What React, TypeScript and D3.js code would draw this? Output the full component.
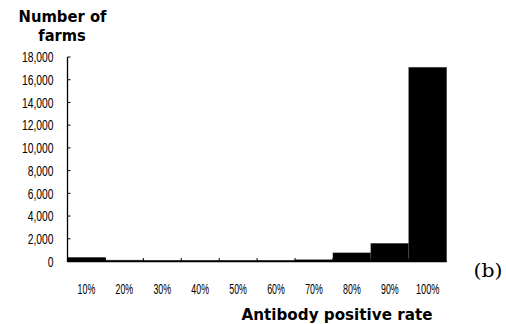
import React from "react";
import * as d3 from "d3";

const categories = ["10%", "20%", "30%", "40%", "50%", "60%", "70%", "80%", "90%", "100%"];
const farms = [370, 120, 110, 110, 110, 110, 150, 760, 1600, 17100];
const yTicks = [0, 2000, 4000, 6000, 8000, 10000, 12000, 14000, 16000, 18000];

const W = 506;
const H = 324;
const left = 67.5;
const right = 446.7;
const top = 57;
const bottom = 261.5;

export default function App() {
  const x = d3.scaleBand<string>().domain(categories).range([left, right]).padding(0);
  const y = d3.scaleLinear().domain([0, 18000]).range([bottom, top]);
  const fmt = d3.format(",");
  const labelFont = "'Liberation Sans', Arial, sans-serif";
  const boldFont = "'DejaVu Sans', Verdana, sans-serif";

  const yLabelWidth = (s: string) => {
    const digits = s.replace(/,/g, "").length;
    const commas = s.length - digits;
    return digits * 5.8 + commas * 2.6;
  };

  return (
    <svg width={W} height={H} style={{ position: "absolute", left: 0, top: 0, background: "#fff" }}>
      <rect x={0} y={0} width={W} height={H} fill="#fff" />
      {/* title */}
      <text x={62.5} y={21.5} fontFamily={boldFont} fontWeight="bold" fontSize={15.5} textAnchor="middle" textLength={88} lengthAdjust="spacingAndGlyphs" fill="#000">Number of</text>
      <text x={62} y={41} fontFamily={boldFont} fontWeight="bold" fontSize={15.5} textAnchor="middle" textLength={47.5} lengthAdjust="spacingAndGlyphs" fill="#000">farms</text>

      {/* bars */}
      {categories.map((c, i) => (
        <rect key={c} x={x(c)!} y={y(farms[i])} width={x.bandwidth()} height={bottom - y(farms[i])} fill="#000" stroke="#555" strokeWidth={0.5} />
      ))}

      {/* y axis */}
      <line x1={left} x2={left} y1={top} y2={bottom + 0.5} stroke="#000" strokeWidth={1.3} />
      {yTicks.map((t) => {
        const s = fmt(t);
        return (
          <g key={t}>
            <line x1={left} x2={left + 3} y1={y(t)} y2={y(t)} stroke="#000" strokeWidth={1} />
            <text x={53.5} y={y(t)} dy="0.36em" fontFamily={labelFont} fontSize={14.5} textAnchor="end" textLength={yLabelWidth(s)} lengthAdjust="spacingAndGlyphs" fill="#000">{s}</text>
          </g>
        );
      })}

      {/* x axis */}
      <line x1={left} x2={right} y1={bottom} y2={bottom} stroke="#000" strokeWidth={1.6} />
      {categories.slice(1).map((c) => (
        <line key={c} x1={x(c)!} x2={x(c)!} y1={bottom} y2={bottom - 3.5} stroke="#000" strokeWidth={1} />
      ))}
      {categories.map((c) => (
        <text key={c} x={x(c)! + x.bandwidth() / 2} y={289} dy="0.36em" fontFamily={labelFont} fontSize={14.5} textAnchor="middle" textLength={c.length * 5.9} lengthAdjust="spacingAndGlyphs" fill="#000">{c}</text>
      ))}

      <text x={337} y={320} fontFamily={boldFont} fontWeight="bold" fontSize={16.5} textAnchor="middle" textLength={191} lengthAdjust="spacingAndGlyphs" fill="#000">Antibody positive rate</text>

      <text x={488} y={276.5} fontFamily="'DejaVu Serif', 'Liberation Serif', serif" fontSize={19} textAnchor="middle" textLength={29} lengthAdjust="spacingAndGlyphs" fill="#000">(b)</text>
    </svg>
  );
}
